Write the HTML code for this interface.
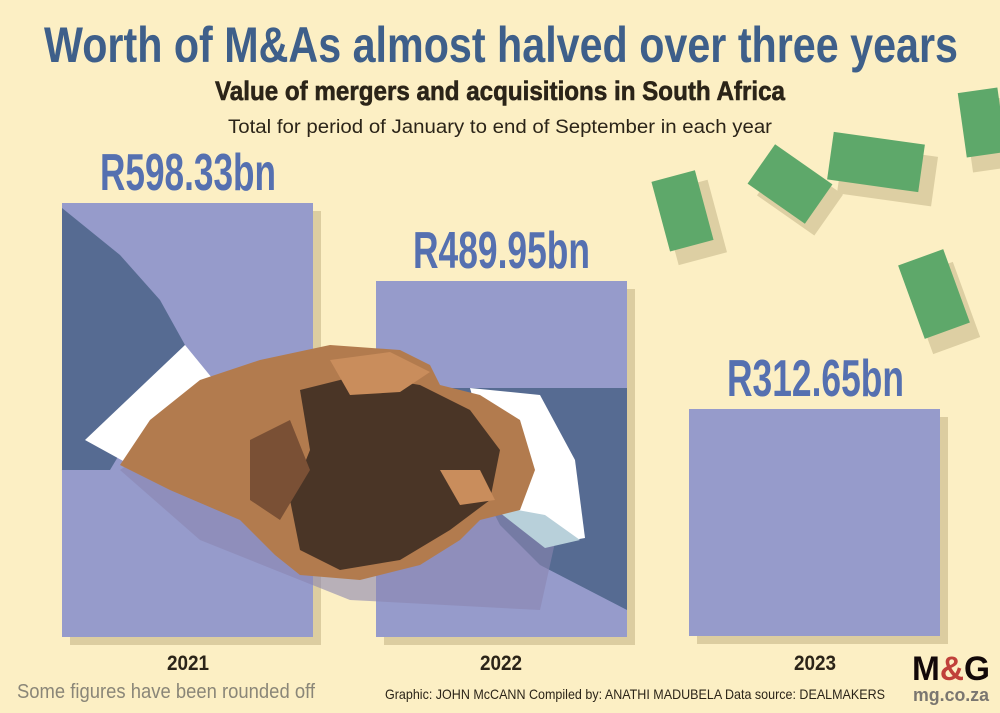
<!DOCTYPE html>
<html><head><meta charset="utf-8"><style>
body{margin:0;background:#fcefc4;}
svg{display:block}
</style></head><body>
<svg width="1000" height="713" viewBox="0 0 1000 713" xmlns="http://www.w3.org/2000/svg" font-family="'Liberation Sans', sans-serif">
<rect width="1000" height="713" fill="#fcefc4"/>
<!-- money -->
<g>
<rect x="668" y="185" width="50" height="75" fill="#ddcfa3" transform="rotate(-15 693 222)"/>
<rect x="660" y="175" width="45" height="72" fill="#5ea86a" transform="rotate(-15 682 211)"/>
<rect x="765" y="170" width="70" height="50" fill="#ddcfa3" transform="rotate(35 800 195)"/>
<rect x="755" y="160" width="70" height="48" fill="#5ea86a" transform="rotate(35 790 184)"/>
<rect x="840" y="150" width="95" height="50" fill="#ddcfa3" transform="rotate(8 887 175)"/>
<rect x="830" y="138" width="92" height="48" fill="#5ea86a" transform="rotate(8 876 162)"/>
<rect x="918" y="268" width="50" height="80" fill="#ddcfa3" transform="rotate(-20 943 308)"/>
<rect x="910" y="255" width="48" height="78" fill="#5ea86a" transform="rotate(-20 934 294)"/>
<rect x="968" y="100" width="40" height="70" fill="#ddcfa3" transform="rotate(-8 988 135)"/>
<rect x="962" y="90" width="40" height="65" fill="#5ea86a" transform="rotate(-8 982 122)"/>
</g>
<!-- bar shadows -->
<rect x="70" y="211" width="251" height="434" fill="#dccda0"/>
<rect x="384" y="289" width="251" height="356" fill="#dccda0"/>
<rect x="697" y="417" width="251" height="227" fill="#dccda0"/>
<!-- bars -->
<rect x="62" y="203" width="251" height="434" fill="#969bcb"/>
<rect x="376" y="281" width="251" height="356" fill="#969bcb"/>
<rect x="689" y="409" width="251" height="227" fill="#969bcb"/>
<!-- sleeves -->
<polygon points="62,208 120,255 160,300 185,345 110,470 62,470" fill="#566b92"/>
<polygon points="430,388 627,388 627,610 540,565 500,525" fill="#566b92"/>
<polygon points="120,470 180,430 300,470 480,470 560,520 540,610 350,600 200,540" fill="#8a86b0" opacity="0.6"/>
<!-- cuffs -->
<polygon points="185,345 212,378 125,462 85,440" fill="#ffffff"/>
<polygon points="470,388 540,395 575,460 585,538 545,545 505,512" fill="#ffffff"/>
<polygon points="490,505 545,515 580,540 545,548" fill="#b8d0da"/>
<!-- hands -->
<polygon points="200,380 260,360 330,345 400,350 430,365 440,385 480,395 520,420 535,470 520,510 480,520 460,540 420,565 360,580 300,575 275,555 240,520 170,490 120,465 150,420" fill="#b27b4e"/>
<polygon points="300,390 360,375 420,385 470,410 500,450 490,500 450,530 400,560 340,570 300,550 290,500 310,450" fill="#4a3526"/>
<polygon points="330,360 390,352 430,372 400,392 350,395" fill="#c98d5c"/>
<polygon points="440,470 480,470 495,500 460,505" fill="#c98d5c"/>
<polygon points="250,440 290,420 310,470 280,520 250,500" fill="#7a5035"/>
<!-- values -->
<g fill="#5570b0" font-weight="bold" font-size="52">
<text x="100" y="190" textLength="176" lengthAdjust="spacingAndGlyphs">R598.33bn</text>
<text x="413" y="268" textLength="177" lengthAdjust="spacingAndGlyphs">R489.95bn</text>
<text x="727" y="396" textLength="177" lengthAdjust="spacingAndGlyphs">R312.65bn</text>
</g>
<!-- titles -->
<text x="44" y="62" font-size="50" font-weight="bold" fill="#3e5f8a" textLength="914" lengthAdjust="spacingAndGlyphs">Worth of M&amp;As almost halved over three years</text>
<text x="215" y="100" font-size="27" font-weight="bold" fill="#2b2418" stroke="#2b2418" stroke-width="0.6" textLength="570" lengthAdjust="spacingAndGlyphs">Value of mergers and acquisitions in South Africa</text>
<text x="228" y="133" font-size="19" fill="#2b2418" textLength="544" lengthAdjust="spacingAndGlyphs">Total for period of January to end of September in each year</text>
<!-- years -->
<g font-size="21" font-weight="bold" fill="#2b2418">
<text x="167" y="670" textLength="42" lengthAdjust="spacingAndGlyphs">2021</text>
<text x="480" y="670" textLength="42" lengthAdjust="spacingAndGlyphs">2022</text>
<text x="794" y="670" textLength="42" lengthAdjust="spacingAndGlyphs">2023</text>
</g>
<text x="17" y="698" font-size="20" fill="#8a8678" textLength="298" lengthAdjust="spacingAndGlyphs">Some figures have been rounded off</text>
<text x="385" y="699" font-size="14" fill="#2b2418" textLength="500" lengthAdjust="spacingAndGlyphs">Graphic: JOHN McCANN  Compiled by: ANATHI MADUBELA  Data source: DEALMAKERS</text>
<!-- logo -->
<text x="912" y="680" font-size="34" font-weight="bold" fill="#120808" textLength="78" lengthAdjust="spacingAndGlyphs">M<tspan fill="#c0403a">&amp;</tspan>G</text>
<text x="913" y="701" font-size="18" font-weight="bold" fill="#7a7670" textLength="76" lengthAdjust="spacingAndGlyphs">mg.co.za</text>
</svg>
</body></html>
